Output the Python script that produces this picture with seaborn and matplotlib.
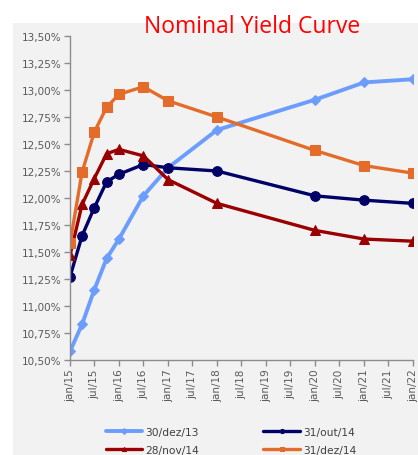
import matplotlib
matplotlib.use("Agg")
import matplotlib.pyplot as plt
import matplotlib.dates as mdates
from matplotlib.patches import Rectangle
import pandas as pd
import seaborn as sns

# ---- data ----
dates = ["2015-01-01", "2015-04-01", "2015-07-01", "2015-10-01", "2016-01-01",
         "2016-07-01", "2017-01-01", "2018-01-01", "2020-01-01", "2021-01-01",
         "2022-01-01"]
dez13 = [10.58, 10.83, 11.15, 11.44, 11.62, 12.02, 12.28, 12.63, 12.91, 13.07, 13.10]
out14 = [11.27, 11.65, 11.91, 12.15, 12.22, 12.31, 12.28, 12.25, 12.02, 11.98, 11.95]
nov14 = [11.47, 11.94, 12.18, 12.41, 12.45, 12.39, 12.17, 11.95, 11.70, 11.62, 11.60]
dez14 = [11.58, 12.24, 12.61, 12.84, 12.96, 13.03, 12.90, 12.75, 12.44, 12.30, 12.23]
series_names = ["30/dez/13", "31/out/14", "28/nov/14", "31/dez/14"]
tick_dates = ["2015-01-01", "2015-07-01", "2016-01-01", "2016-07-01", "2017-01-01",
              "2017-07-01", "2018-01-01", "2018-07-01", "2019-01-01", "2019-07-01",
              "2020-01-01", "2020-07-01", "2021-01-01", "2021-07-01", "2022-01-01"]
tick_labels = ["jan/15", "jul/15", "jan/16", "jul/16", "jan/17", "jul/17", "jan/18",
               "jul/18", "jan/19", "jul/19", "jan/20", "jul/20", "jan/21", "jul/21",
               "jan/22"]
y_ticks = [10.50, 10.75, 11.00, 11.25, 11.50, 11.75, 12.00, 12.25, 12.50, 12.75,
           13.00, 13.25, 13.50]
title = "Nominal Yield Curve"

# ---- build frame ----
d = pd.to_datetime(dates)
df = pd.concat([
    pd.DataFrame({"date": d, "yield": v, "series": n})
    for n, v in zip(series_names, [dez13, out14, nov14, dez14])
], ignore_index=True)

sns.set_style("white")
plt.rcParams["font.family"] = ["DejaVu Sans"]

W, H = 418, 456
fig = plt.figure(figsize=(W / 100, H / 100), dpi=100)
fig.patch.set_facecolor("white")
bg = Rectangle((13 / W, 0), 1 - 13 / W, 1 - 24 / H,
               transform=fig.transFigure, facecolor="#f2f2f2",
               edgecolor="none", zorder=-10)
fig.patches.append(bg)

ax = fig.add_axes([70 / W, 1 - 361 / H, (413 - 70) / W, (361 - 37) / H])
ax.set_facecolor("none")
ax.set_zorder(5)

styles = {
    "30/dez/13": dict(color="#6c9dfc", marker="D", ms=5, lw=2.8),
    "31/out/14": dict(color="#000066", marker="o", ms=7, lw=2.4),
    "28/nov/14": dict(color="#990000", marker="^", ms=7, lw=2.4),
    "31/dez/14": dict(color="#e36c2a", marker="s", ms=7, lw=2.4),
}
handles = {}
for n in series_names:
    s = styles[n]
    sub = df[df["series"] == n]
    sns.lineplot(data=sub, x="date", y="yield", ax=ax, color=s["color"],
                 marker=s["marker"], markersize=s["ms"], linewidth=s["lw"],
                 markeredgecolor=s["color"], label=n, legend=False)
    handles[n] = ax.lines[-1]

ax.set_xlim(pd.Timestamp("2015-01-01"), pd.Timestamp("2022-01-01"))
ax.set_ylim(10.5, 13.5)
ax.set_xticks(mdates.date2num(pd.to_datetime(tick_dates)))
ax.set_xticklabels(tick_labels, rotation=90)
ax.set_yticks(y_ticks)
ax.set_yticklabels([f"{v:.2f}%".replace(".", ",") for v in y_ticks])
ax.set_xlabel("")
ax.set_ylabel("")
for sp in ["top", "right"]:
    ax.spines[sp].set_visible(False)
for sp in ["left", "bottom"]:
    ax.spines[sp].set_color("#8c8c8c")
    ax.spines[sp].set_linewidth(1.0)
ax.tick_params(axis="both", which="major", direction="out", length=4, width=1,
               color="#8c8c8c", labelsize=7.5, labelcolor="#595959", pad=2,
               bottom=True, left=True)
ax.grid(False)

fig.text(252 / W, 1 - 27 / H, title, color="#ff0000", fontsize=16.5,
         ha="center", va="center", family=["Open Sans", "DejaVu Sans"])

order = ["30/dez/13", "28/nov/14", "31/out/14", "31/dez/14"]
leg = fig.legend([handles[n] for n in order], order, ncol=2, frameon=False,
                 loc="center", bbox_to_anchor=(231 / W, 1 - 442 / H),
                 fontsize=7.7, handlelength=3.4, handletextpad=0.3,
                 columnspacing=6.0, labelspacing=0.75, borderpad=0)
for t in leg.get_texts():
    t.set_color("#404040")
for h in leg.legend_handles:
    h.set_markersize(3)

fig.savefig("out.png", dpi=100, facecolor="white")
